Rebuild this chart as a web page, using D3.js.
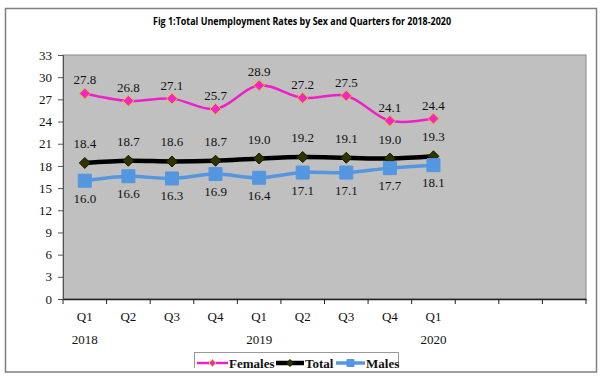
<!DOCTYPE html>
<html>
<head>
<meta charset="utf-8">
<script src="https://cdn.jsdelivr.net/npm/d3@7"></script>
<style>
  body { margin: 0; background: #fff; }
  svg { display: block; }
</style>
</head>
<body>
<div id="chart"></div>
<script>
var svgWidth = 603;
var svgHeight = 383;

// data
var quarters = ["Q1", "Q2", "Q3", "Q4", "Q1", "Q2", "Q3", "Q4", "Q1", "", "", ""];
var years = [{ idx: 0, label: "2018" }, { idx: 4, label: "2019" }, { idx: 8, label: "2020" }];
var females = [27.8, 26.8, 27.1, 25.7, 28.9, 27.2, 27.5, 24.1, 24.4];
var total = [18.4, 18.7, 18.6, 18.7, 19.0, 19.2, 19.1, 19.0, 19.3];
var males = [16.0, 16.6, 16.3, 16.9, 16.4, 17.1, 17.1, 17.7, 18.1];
var yTicks = [0, 3, 6, 9, 12, 15, 18, 21, 24, 27, 30, 33];

var plot = { left: 63, top: 55, right: 586, bottom: 299 };

var svg = d3.select("#chart").append("svg")
    .attr("width", svgWidth)
    .attr("height", svgHeight);

// outer frame
svg.append("rect")
    .attr("x", 5.5).attr("y", 8.5)
    .attr("width", 591).attr("height", 363.5)
    .attr("fill", "#fff")
    .attr("stroke", "#7f7f7f")
    .attr("stroke-width", 1.5);

// title
svg.append("text")
    .attr("x", 302).attr("y", 25)
    .attr("text-anchor", "middle")
    .attr("font-family", "Open Sans, sans-serif")
    .attr("font-weight", "bold")
    .attr("font-size", 10)
    .attr("textLength", 298)
    .attr("lengthAdjust", "spacingAndGlyphs")
    .text("Fig 1:Total Unemployment Rates by Sex and Quarters for 2018-2020");

var x = d3.scaleBand()
    .domain(d3.range(quarters.length))
    .range([plot.left, plot.right]);

var y = d3.scaleLinear()
    .domain([0, 33])
    .range([plot.bottom, plot.top]);

// plot area
svg.append("rect")
    .attr("x", plot.left).attr("y", plot.top)
    .attr("width", plot.right - plot.left)
    .attr("height", plot.bottom - plot.top)
    .attr("fill", "#c0c0c0")
    .attr("stroke", "#8a8a8a")
    .attr("stroke-width", 1);

// y axis
var yAxis = svg.append("g")
    .attr("transform", `translate(${plot.left},0)`)
    .call(d3.axisLeft(y).tickValues(yTicks).tickSize(5).tickPadding(6));
yAxis.select(".domain").attr("stroke", "#555");
yAxis.selectAll(".tick line").attr("stroke", "#555");
yAxis.selectAll("text")
    .attr("font-family", "Liberation Serif, serif")
    .attr("font-size", 13)
    .attr("fill", "#111");

// x axis
var xAxis = svg.append("g")
    .attr("transform", `translate(0,${plot.bottom})`)
    .call(d3.axisBottom(x).tickFormat(i => quarters[i]).tickSize(0).tickPadding(13));
xAxis.select(".domain").attr("stroke", "#222").attr("stroke-width", 1.5);
xAxis.selectAll("text")
    .attr("font-family", "Liberation Serif, serif")
    .attr("font-size", 13)
    .attr("fill", "#111");
// tick marks at band edges
xAxis.selectAll(".edge")
    .data(d3.range(quarters.length + 1))
    .enter().append("line")
    .attr("class", "edge")
    .attr("x1", i => plot.left + i * x.step())
    .attr("x2", i => plot.left + i * x.step())
    .attr("y1", 0).attr("y2", 5)
    .attr("stroke", "#222");

svg.selectAll(".year")
    .data(years)
    .enter().append("text")
    .attr("class", "year")
    .attr("x", d => x(d.idx) + x.bandwidth() / 2)
    .attr("y", 344)
    .attr("text-anchor", "middle")
    .attr("font-family", "Liberation Serif, serif")
    .attr("font-size", 13)
    .attr("fill", "#111")
    .text(d => d.label);

var cx = i => x(i) + x.bandwidth() / 2;
var line = d3.line()
    .x((d, i) => cx(i))
    .y(d => y(d))
    .curve(d3.curveCatmullRom.alpha(0.5));

var series = [
    { name: "Females", values: females, color: "#ee1fc8", width: 2.5, marker: "diamond", msize: 5.5, mfill: "#ff22cc", mstroke: "#c8d400", labelDy: -9 },
    { name: "Total", values: total, color: "#000", width: 4.5, marker: "diamond", msize: 5.5, mfill: "#2f3300", mstroke: "#1a1a00", labelDy: -15 },
    { name: "Males", values: males, color: "#5596e0", width: 3.5, marker: "square", msize: 6.5, mfill: "#5596e0", mstroke: "#5596e0", labelDy: 22 }
];

var diamond = s => `M0,${-s} L${s},0 L0,${s} L${-s},0 Z`;
var square = s => `M${-s},${-s} L${s},${-s} L${s},${s} L${-s},${s} Z`;

series.forEach(function(s) {
    svg.append("path")
        .datum(s.values)
        .attr("d", line)
        .attr("fill", "none")
        .attr("stroke", s.color)
        .attr("stroke-width", s.width);

    svg.selectAll(".m-" + s.name)
        .data(s.values)
        .enter().append("path")
        .attr("class", "m-" + s.name)
        .attr("transform", (d, i) => `translate(${cx(i)},${y(d)})`)
        .attr("d", s.marker === "diamond" ? diamond(s.msize) : square(s.msize))
        .attr("fill", s.mfill)
        .attr("stroke", s.mstroke)
        .attr("stroke-width", 1);

    svg.selectAll(".l-" + s.name)
        .data(s.values)
        .enter().append("text")
        .attr("class", "l-" + s.name)
        .attr("x", (d, i) => cx(i))
        .attr("y", d => y(d) + s.labelDy)
        .attr("text-anchor", "middle")
        .attr("font-family", "Liberation Serif, serif")
        .attr("font-size", 13)
        .attr("fill", "#111")
        .text(d => d.toFixed(1));
});

// legend (bottom edge clipped like the original)
svg.append("clipPath").attr("id", "legclip")
    .append("rect").attr("x", 0).attr("y", 0).attr("width", svgWidth).attr("height", 368);

var legend = svg.append("g").attr("clip-path", "url(#legclip)");
legend.append("rect")
    .attr("x", 194.5).attr("y", 352.5)
    .attr("width", 204).attr("height", 24)
    .attr("fill", "#fff")
    .attr("stroke", "#999");

var legItems = [
    { s: series[0], x: 197, tx: 229 },
    { s: series[1], x: 276, tx: 305 },
    { s: series[2], x: 336, tx: 366 }
];
legItems.forEach(function(it) {
    var ly = 363;
    legend.append("line")
        .attr("x1", it.x).attr("x2", it.tx - 1)
        .attr("y1", ly).attr("y2", ly)
        .attr("stroke", it.s.color)
        .attr("stroke-width", it.s.width);
    legend.append("path")
        .attr("transform", `translate(${(it.x + it.tx - 1) / 2},${ly})`)
        .attr("d", it.s.marker === "diamond" ? diamond(3.5) : square(3.5))
        .attr("fill", it.s.mfill)
        .attr("stroke", it.s.mstroke)
        .attr("stroke-width", 1);
    legend.append("text")
        .attr("x", it.tx).attr("y", 367.5)
        .attr("font-family", "Liberation Serif, serif")
        .attr("font-weight", "bold")
        .attr("font-size", 13)
        .attr("fill", "#111")
        .text(it.s.name);
});
</script>
</body>
</html>
